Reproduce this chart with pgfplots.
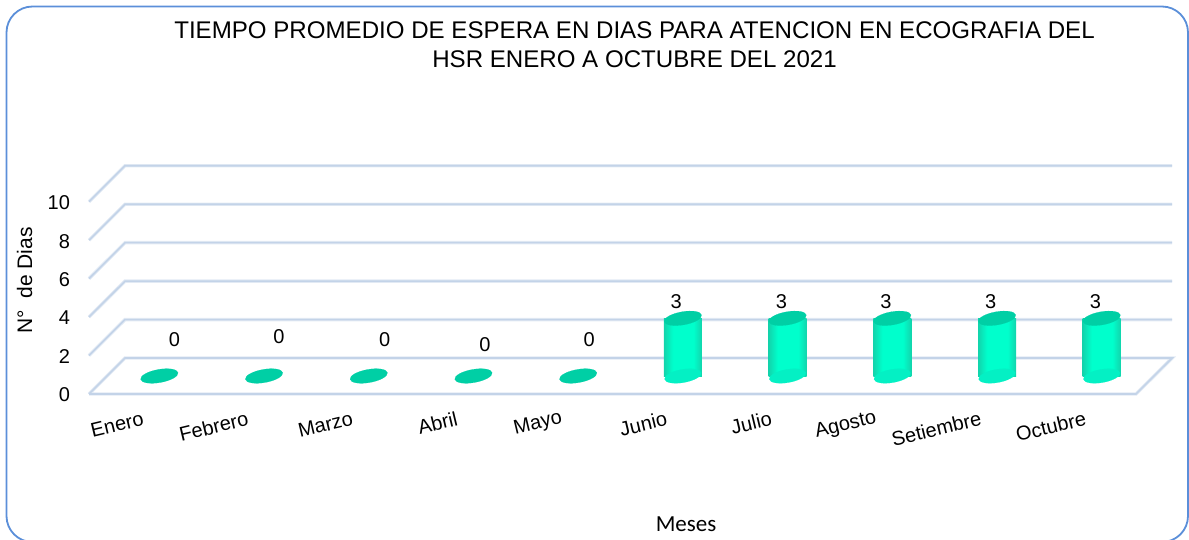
\documentclass[border=0pt]{standalone}
\usepackage{fontspec}
\setmainfont{Liberation Sans}
\newfontfamily\calibri{Carlito}
\usepackage{pgfplots}
\pgfplotsset{compat=1.18}
\usepackage{pgfplotstable}
\definecolor{gridblue}{HTML}{C3D3E8}
\definecolor{gridsoft}{HTML}{E2EAF4}
\definecolor{frameblue}{HTML}{5B8FD9}
\definecolor{captop}{HTML}{00CFA5}
\definecolor{barmid}{HTML}{00FFCC}
\definecolor{baredge}{HTML}{12D4AC}
\definecolor{barbase}{HTML}{04F0C4}
% cilindro: borde oscuro, centro claro (el path ocupa de 25bp a 75bp)
\pgfdeclarehorizontalshading{cilindro}{100bp}{
  color(0bp)=(baredge); color(25bp)=(baredge); color(37bp)=(barmid);
  color(64bp)=(barmid); color(75bp)=(baredge); color(100bp)=(baredge)}

% mes, dias
\pgfplotstableread{
x dias
0 0
1 0
2 0
3 0
4 0
5 3
6 3
7 3
8 3
9 3
}\espera

\pgfplotsset{
  base3d/.style={
    scale only axis, width=1047pt, height=192.3pt,
    xmin=-0.5, xmax=9.5, ymin=0, ymax=10,
    anchor=south west, clip=false,
  },
  wall/.style={gridsoft, line width=3.4pt, forget plot},
  wallb/.style={gridblue, line width=1.6pt, forget plot},
}
\newcommand{\pared}[1]{%
  \addplot[#1] coordinates {(-0.5,10)(-0.156,11.87)(9.844,11.87)};
  \addplot[#1] coordinates {(-0.5,8)(-0.156,9.87)(9.844,9.87)};
  \addplot[#1] coordinates {(-0.5,6)(-0.156,7.87)(9.844,7.87)};
  \addplot[#1] coordinates {(-0.5,4)(-0.156,5.87)(9.844,5.87)};
  \addplot[#1] coordinates {(-0.5,2)(-0.156,3.87)(9.844,3.87)};
  \addplot[#1] coordinates {(-0.5,0)(-0.156,1.87)(9.844,1.87)(9.5,0)(-0.5,0)};
}
% una barra por plot, para que cada una tenga su propio sombreado
\newcommand{\barra}[1]{%
  \addplot[ybar, bar width=38pt, draw=none, restrict x to domain=#1:#1,
    shading=cilindro, shading angle=0]
    table[x=x, y=dias] {\espera};
}

\begin{document}
\begin{tikzpicture}
  \useasboundingbox (0,0) rectangle (1189pt,539pt);
  \begin{scope}
    \clip (0,0) rectangle (1189pt,539pt);
    \draw[frameblue, line width=1.8pt, rounded corners=26pt]
      (6.5pt,-3pt) rectangle (1188pt,532.5pt);
  \end{scope}

  % plano frontal: rejilla, ticks y textos
  \begin{axis}[base3d, at={(89pt,145pt)},
      axis line style={draw=none}, major tick length=0pt,
      xtick={0,...,9},
      xticklabels={Enero,Febrero,Marzo,Abril,Mayo,Junio,Julio,Agosto,Setiembre,Octubre},
      xticklabel style={font=\fontsize{20}{24}\selectfont, rotate=13.5, anchor=east, yshift=-24pt, xshift=-0.5pt},
      ytick={0,2,4,6,8,10},
      yticklabel style={font=\fontsize{20}{24}\selectfont, xshift=-15.5pt, yshift=-1pt},
      /pgf/number format/assume math mode=true,
      ylabel={N°\ \ de Dias},
      ylabel style={font=\fontsize{21}{25}\selectfont, at={(axis description cs:-0.0615,0.59)}, anchor=center},
      xlabel={\calibri Meses},
      xlabel style={font=\fontsize{23}{27}\selectfont, at={(axis description cs:0.5702,-0.677)}, anchor=center},
      title={TIEMPO PROMEDIO DE ESPERA EN DIAS PARA ATENCION EN ECOGRAFIA DEL\\HSR ENERO A OCTUBRE DEL 2021},
      title style={font=\fontsize{24.1}{29}\selectfont, align=center, at={(axis description cs:0.521,1.785)}, anchor=center},
    ]
    \pared{wall}
    \pared{wallb}
  \end{axis}

  % barras, a media profundidad del piso
  \begin{axis}[base3d, at={(107pt,163pt)}, hide axis]
    % fondo redondeado de cada cilindro
    \addplot[only marks, mark=*, mark size=1pt,
      mark options={draw=barbase, line width=0.1pt, fill=barbase, rotate=10, xscale=18.6, yscale=6.6}]
      coordinates {(5,0)(6,0)(7,0)(8,0)(9,0)};
    \barra{5}
    \barra{6}
    \barra{7}
    \barra{8}
    \barra{9}
    \addplot[only marks, mark=*, mark size=1pt,
      mark options={draw=captop, line width=0.1pt, fill=captop, rotate=10, xscale=19, yscale=6.6}]
      table[x=x, y=dias] {\espera};
    % etiquetas de valor
    \addplot[draw=none, mark=none, point meta=explicit symbolic, nodes near coords,
      nodes near coords style={font=\fontsize{20}{24}\selectfont, anchor=center, inner sep=0pt}]
      coordinates {
        (0.143,1.90)[0] (1.143,2.03)[0] (2.153,1.87)[0] (3.11,1.61)[0] (4.105,1.87)[0]
        (4.936,3.85)[3] (5.94,3.85)[3] (6.94,3.85)[3] (7.94,3.85)[3] (8.94,3.85)[3]};
  \end{axis}
\end{tikzpicture}
\end{document}
